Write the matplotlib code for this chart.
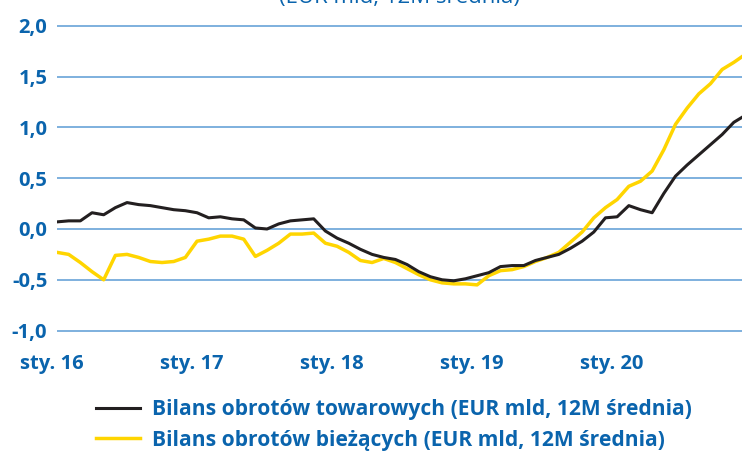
import matplotlib
matplotlib.use('Agg')
from matplotlib import pyplot as plt
from matplotlib import transforms
import numpy as np

# Dane miesięczne od sty. 2016 (12M średnia, EUR mld)
towarowe = [0.07, 0.08, 0.08, 0.16, 0.14, 0.21, 0.26, 0.24, 0.23, 0.21, 0.19, 0.18,
            0.16, 0.11, 0.12, 0.10, 0.09, 0.01, 0.00, 0.05, 0.08, 0.09, 0.10, -0.02,
            -0.09, -0.14, -0.20, -0.25, -0.28, -0.30, -0.35, -0.42, -0.47, -0.50, -0.51, -0.49,
            -0.46, -0.43, -0.37, -0.36, -0.36, -0.31, -0.28, -0.25, -0.19, -0.12, -0.03, 0.11,
            0.12, 0.23, 0.19, 0.16, 0.35, 0.52, 0.63, 0.73, 0.83, 0.93, 1.05, 1.12]
biezace = [-0.23, -0.25, -0.33, -0.42, -0.50, -0.26, -0.25, -0.28, -0.32, -0.33, -0.32, -0.28,
           -0.12, -0.10, -0.07, -0.07, -0.10, -0.27, -0.21, -0.14, -0.05, -0.05, -0.04, -0.14,
           -0.17, -0.23, -0.31, -0.33, -0.29, -0.33, -0.39, -0.45, -0.50, -0.53, -0.54, -0.54,
           -0.55, -0.46, -0.41, -0.40, -0.37, -0.32, -0.28, -0.23, -0.13, -0.03, 0.11, 0.21,
           0.29, 0.42, 0.47, 0.57, 0.78, 1.03, 1.19, 1.33, 1.43, 1.57, 1.64, 1.72]
x_labels = ['sty. 16', 'sty. 17', 'sty. 18', 'sty. 19', 'sty. 20']
y_ticks = [-1.0, -0.5, 0.0, 0.5, 1.0, 1.5, 2.0]
legend_labels = ['Bilans obrotów towarowych (EUR mld, 12M średnia)',
                 'Bilans obrotów bieżących (EUR mld, 12M średnia)']

BLUE = '#0a64ad'
GRID = '#5b9bd5'

plt.rcParams['font.family'] = ['Open Sans', 'DejaVu Sans']

fig = plt.figure(figsize=(7.42, 4.51), dpi=100)
ax = fig.add_axes([57 / 742, 0.2557, 1 - 57 / 742, 0.6984])

months = np.arange(len(towarowe))
ax.plot(months, towarowe, color='#231f20', lw=2.2, label=legend_labels[0], zorder=3)
ax.plot(months, biezace, color='#ffd500', lw=2.5, label=legend_labels[1], zorder=2)

ax.set_xlim(0, 58.7)
ax.set_ylim(-1.05, 2.05)

for v in y_ticks:
    ax.axhline(v, color=GRID, lw=1.1, zorder=1)

ax.set_yticks(y_ticks)
ax.set_yticklabels([f'{v:.1f}'.replace('.', ',') for v in y_ticks])
ax.set_xticks(np.arange(len(x_labels)) * 12)
ax.set_xticklabels(x_labels)
ax.tick_params(axis='both', length=0, colors=BLUE, labelsize=14.5)
ax.tick_params(axis='y', pad=7)
ax.tick_params(axis='x', pad=13)
for lbl in ax.get_xticklabels() + ax.get_yticklabels():
    lbl.set_fontweight('bold')
offset = transforms.ScaledTranslation(-5 / 100, 0, fig.dpi_scale_trans)
for lbl in ax.get_xticklabels():
    lbl.set_transform(lbl.get_transform() + offset)

for s in ax.spines.values():
    s.set_visible(False)

# tytuł ucięty u góry (tak jak w oryginale)
fig.text(400 / 742, 1 - 3 / 451, '(EUR mld, 12M średnia)', ha='center', va='baseline',
         fontsize=16, color=BLUE)

leg = fig.legend(loc='upper left', bbox_to_anchor=(88 / 742, 1 - 391 / 451), frameon=False,
                 fontsize=15.1, handlelength=2.1, handletextpad=0.55, labelspacing=0.45,
                 borderaxespad=0)
for t in leg.get_texts():
    t.set_color(BLUE)
    t.set_fontweight('bold')

fig.savefig('out.png', dpi=100)
